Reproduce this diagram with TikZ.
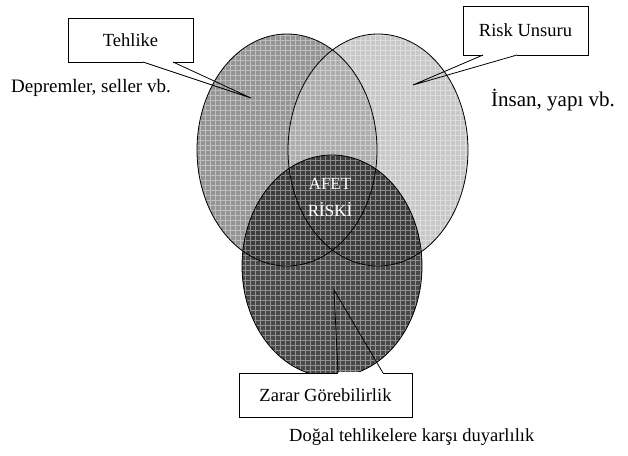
\documentclass[tikz,border=0pt]{standalone}
\usepackage{fontspec}
\setmainfont{Liberation Serif}
\definecolor{lgray}{RGB}{148,148,148}
\definecolor{rgray}{RGB}{200,200,200}
\definecolor{lrgray}{RGB}{172,172,172}
\definecolor{dgray}{RGB}{72,72,72}
\definecolor{ddgray}{RGB}{60,60,60}
\begin{document}
\begin{tikzpicture}[x=1pt,y=-1pt,
  txt/.style={font=\fontsize{19}{22}\selectfont, inner sep=0pt},
  callbox/.style={draw=black, line width=0.8pt, fill=white, inner sep=0pt,
    font=\fontsize{18.5}{22}\selectfont},
  outline/.style={draw=black, line width=0.8pt},
  wedgeline/.style={draw=black, line width=0.8pt, line join=miter},
  erase/.style={draw=white, line width=1.6pt}]
\useasboundingbox (0,0) rectangle (628,455);
\fill[white] (0,0) rectangle (628,455);
% fills
\fill[lgray] (287,150) ellipse [x radius=90, y radius=116];
\fill[rgray] (378,150) ellipse [x radius=90, y radius=116];
\begin{scope}
  \clip (287,150) ellipse [x radius=90, y radius=116];
  \fill[lrgray] (378,150) ellipse [x radius=90, y radius=116];
\end{scope}
\fill[dgray] (332,266) ellipse [x radius=90, y radius=111];
\begin{scope}
  \clip (332,266) ellipse [x radius=90, y radius=111];
  \fill[ddgray] (287,150) ellipse [x radius=90, y radius=116];
  \fill[ddgray] (378,150) ellipse [x radius=90, y radius=116];
\end{scope}
% grid texture
\begin{scope}
  \clip (287,150) ellipse [x radius=90, y radius=116]
        (378,150) ellipse [x radius=90, y radius=116]
        (332,266) ellipse [x radius=90, y radius=111];
  \draw[white, opacity=0.4, line width=0.9pt, xstep=5pt, ystep=5pt] (190,25) grid (480,385);
\end{scope}
% outlines
\draw[outline] (287,150) ellipse [x radius=90, y radius=116];
\draw[outline] (378,150) ellipse [x radius=90, y radius=116];
\draw[outline] (332,266) ellipse [x radius=90, y radius=111];
% AFET RISKI
\node[txt, text=white, align=center, font=\fontsize{17}{27}\selectfont] (afet) at (330,197) {AFET\\RİSKİ};
% boxes
\node[callbox, minimum width=125pt, minimum height=44pt] (teh) at (130.5,40) {Tehlike};
\node[callbox, minimum width=125pt, minimum height=49pt] (risk) at (525.5,30.5) {Risk Unsuru};
\node[callbox, minimum width=173pt, minimum height=44pt] (zarar) at (325.5,395) {Zarar Görebilirlik};
% wedge coordinates
\coordinate (t1) at (143,62);
\coordinate (t2) at (173,62);
\coordinate (ttip) at (251,98);
\coordinate (r1) at (483,55);
\coordinate (r2) at (517,55);
\coordinate (rtip) at (413,85);
\coordinate (z1) at (338,373);
\coordinate (z2) at (383,373);
\coordinate (ztip) at (334,290);
\draw[erase] (t1) -- (t2);
\draw[wedgeline] (t1) -- (ttip) -- (t2);
\draw[erase] (r1) -- (r2);
\draw[wedgeline] (r1) -- (rtip) -- (r2);
\draw[erase] (z1) -- (z2);
\draw[wedgeline] (z1) -- (ztip) -- (z2);
% free texts
\node[txt, anchor=west] (dep) at (11,88) {Depremler, seller vb.};
\node[txt, anchor=west, font=\fontsize{21}{24}\selectfont] (ins) at (491,100) {İnsan, yapı vb.};
\node[txt, anchor=west, font=\fontsize{18.5}{22}\selectfont] (dog) at (289,437) {Doğal tehlikelere karşı duyarlılık};
\end{tikzpicture}
\end{document}
